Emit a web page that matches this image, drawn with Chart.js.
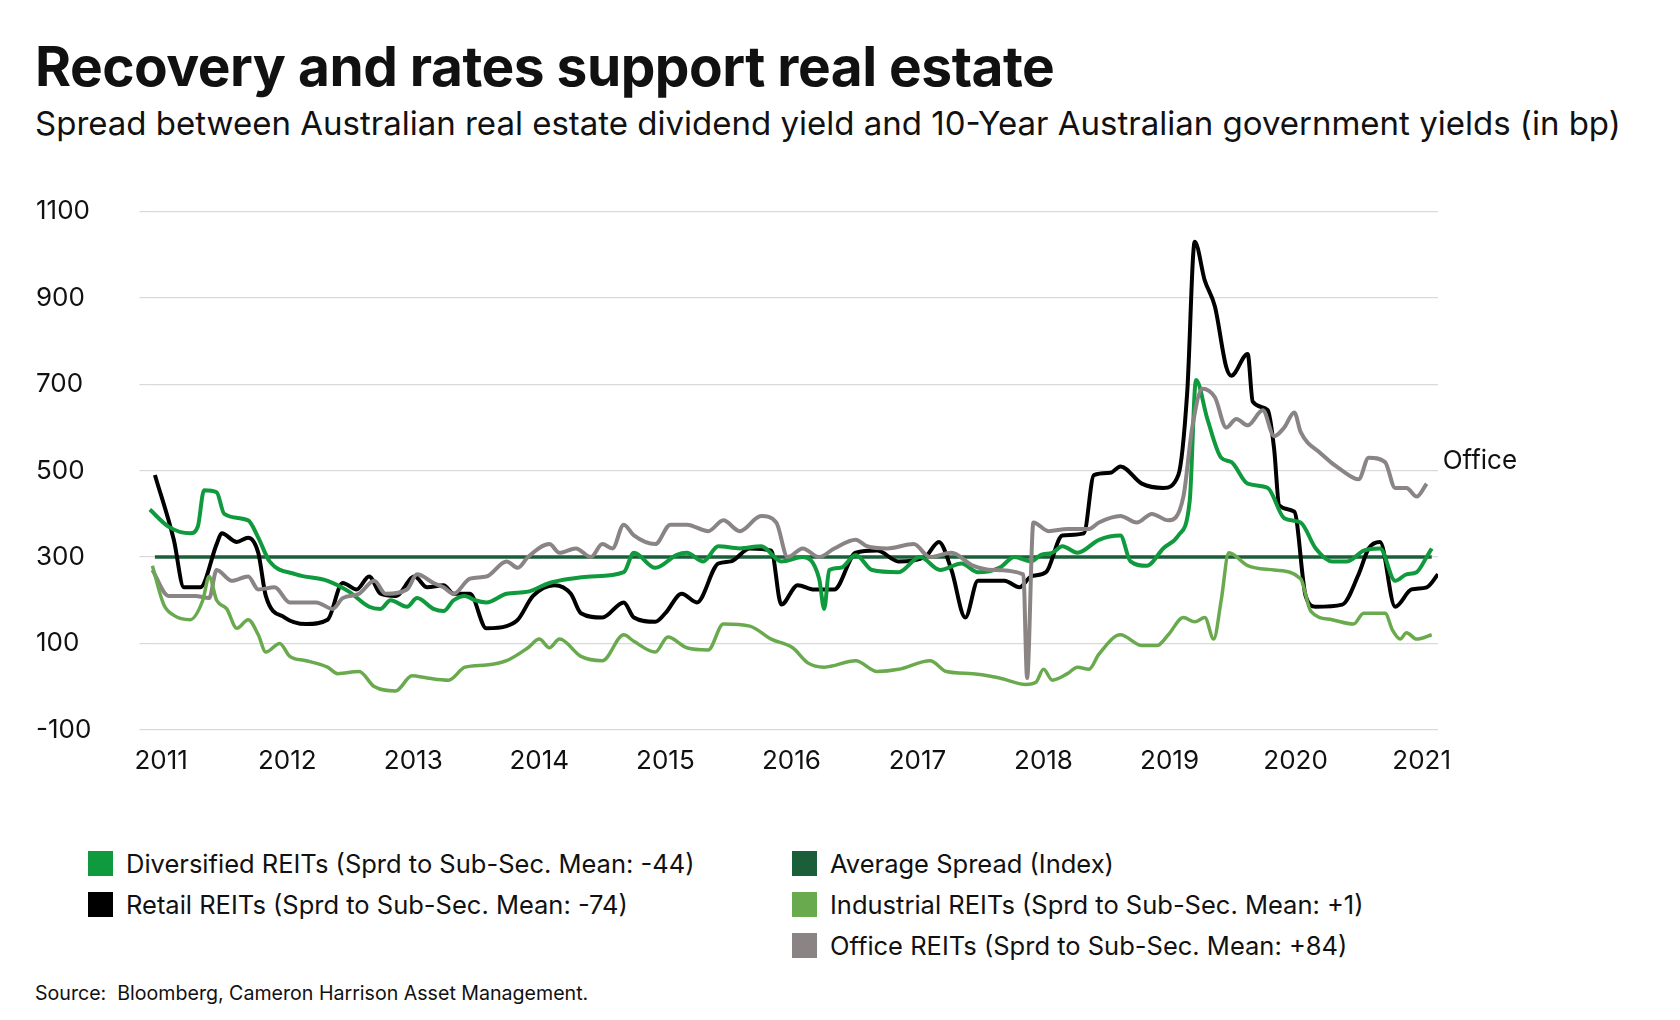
<!DOCTYPE html>
<html><head><meta charset="utf-8">
<script src="https://cdn.jsdelivr.net/npm/chart.js@4"></script>
<style>
body{margin:0;background:#fff;font-family:Inter,"Noto Sans",sans-serif;color:#111;width:1680px;height:1020px;position:relative;overflow:hidden}
#t{position:absolute;left:35px;top:33px;font-size:55px;font-weight:700;letter-spacing:-0.5px}
#s{position:absolute;left:35px;top:103px;font-size:33px}
#c{position:absolute;left:36px;top:172px;width:1492px;height:613px}
.lg{position:absolute;font-size:25.5px;display:flex;align-items:center}
.lg i{display:inline-block;width:25px;height:25px;margin-right:13px}
#src{position:absolute;left:35px;top:981px;font-size:19.6px}
</style></head><body>
<div id="t">Recovery and rates support real estate</div>
<div id="s">Spread between Australian real estate dividend yield and 10-Year Australian government yields (in bp)</div>
<div id="c"><canvas id="cv"></canvas></div>
<div class="lg" style="left:88px;top:848px"><i style="background:#0f9a3e"></i>Diversified REITs (Sprd to Sub-Sec. Mean: -44)</div>
<div class="lg" style="left:88px;top:889px"><i style="background:#000"></i>Retail REITs (Sprd to Sub-Sec. Mean: -74)</div>
<div class="lg" style="left:792px;top:848px"><i style="background:#1b5e3a"></i>Average Spread (Index)</div>
<div class="lg" style="left:792px;top:889px"><i style="background:#6aaa4e"></i>Industrial REITs (Sprd to Sub-Sec. Mean: +1)</div>
<div class="lg" style="left:792px;top:930px"><i style="background:#8a8584"></i>Office REITs (Sprd to Sub-Sec. Mean: +84)</div>
<div id="src">Source:&nbsp; Bloomberg, Cameron Harrison Asset Management.</div>
<script>
const yearTicks=[2011,2012,2013,2014,2015,2016,2017,2018,2019,2020,2021];
const yTicks=[-100,100,300,500,700,900,1100];
const retail=[[2010.95,490],[2011.10,340],[2011.18,230],[2011.31,230],[2011.44,330],[2011.48,355],[2011.60,335],[2011.69,345],[2011.77,310],[2011.83,210],[2011.98,160],[2012.15,145],[2012.32,155],[2012.44,240],[2012.55,225],[2012.65,255],[2012.74,215],[2012.86,210],[2013.01,255],[2013.11,230],[2013.24,235],[2013.32,215],[2013.45,215],[2013.58,135],[2013.74,140],[2013.83,155],[2013.95,210],[2014.12,235],[2014.25,215],[2014.33,170],[2014.50,160],[2014.67,195],[2014.75,160],[2014.92,150],[2015.00,170],[2015.13,215],[2015.25,195],[2015.42,285],[2015.52,290],[2015.67,320],[2015.84,315],[2015.92,190],[2016.05,235],[2016.18,225],[2016.34,225],[2016.51,310],[2016.68,315],[2016.85,290],[2017.06,300],[2017.17,335],[2017.27,270],[2017.38,160],[2017.48,245],[2017.69,245],[2017.81,230],[2017.90,255],[2018.02,265],[2018.15,350],[2018.32,355],[2018.40,490],[2018.53,495],[2018.61,510],[2018.78,470],[2018.95,460],[2019.07,490],[2019.14,680],[2019.20,1030],[2019.28,940],[2019.36,880],[2019.45,740],[2019.49,720],[2019.62,770],[2019.66,660],[2019.78,640],[2019.83,550],[2019.87,420],[2019.99,405],[2020.08,210],[2020.16,185],[2020.37,190],[2020.50,260],[2020.58,320],[2020.67,335],[2020.79,185],[2020.92,225],[2021.04,230],[2021.13,260]];
const diversified=[[2010.91,410],[2011.06,370],[2011.23,355],[2011.29,370],[2011.34,455],[2011.44,450],[2011.50,400],[2011.69,385],[2011.77,345],[2011.86,290],[2012.07,260],[2012.32,245],[2012.49,220],[2012.65,185],[2012.74,180],[2012.82,200],[2012.95,185],[2013.03,205],[2013.16,180],[2013.24,175],[2013.32,200],[2013.41,210],[2013.49,200],[2013.58,195],[2013.74,215],[2013.91,220],[2014.08,240],[2014.25,250],[2014.41,255],[2014.67,265],[2014.75,310],[2014.92,275],[2015.09,305],[2015.17,310],[2015.30,290],[2015.42,325],[2015.59,320],[2015.76,325],[2015.92,290],[2016.09,300],[2016.22,250],[2016.26,180],[2016.30,270],[2016.39,275],[2016.51,305],[2016.64,270],[2016.85,265],[2017.02,300],[2017.18,270],[2017.35,285],[2017.48,265],[2017.65,275],[2017.77,300],[2017.90,290],[2017.98,305],[2018.07,310],[2018.15,325],[2018.27,310],[2018.44,340],[2018.61,350],[2018.69,290],[2018.82,280],[2018.95,320],[2019.07,350],[2019.16,430],[2019.21,710],[2019.30,620],[2019.41,530],[2019.49,520],[2019.62,470],[2019.78,460],[2019.91,390],[2020.04,380],[2020.16,320],[2020.29,290],[2020.41,290],[2020.54,315],[2020.67,320],[2020.79,245],[2020.88,260],[2020.96,265],[2021.04,300],[2021.08,320]];
const industrial=[[2010.93,280],[2011.02,190],[2011.10,165],[2011.23,155],[2011.33,200],[2011.38,255],[2011.44,200],[2011.52,180],[2011.60,135],[2011.69,155],[2011.77,120],[2011.83,80],[2011.94,100],[2012.02,70],[2012.15,60],[2012.32,45],[2012.40,30],[2012.57,35],[2012.69,0],[2012.86,-10],[2012.99,25],[2013.11,20],[2013.28,15],[2013.41,45],[2013.58,50],[2013.74,60],[2013.91,90],[2014.00,110],[2014.08,90],[2014.16,110],[2014.33,70],[2014.50,60],[2014.67,120],[2014.75,105],[2014.92,80],[2015.02,115],[2015.17,90],[2015.34,85],[2015.46,145],[2015.67,140],[2015.84,110],[2016.01,90],[2016.13,55],[2016.26,45],[2016.51,60],[2016.68,35],[2016.85,40],[2017.10,60],[2017.23,35],[2017.44,30],[2017.65,20],[2017.86,5],[2017.94,10],[2018.00,40],[2018.07,15],[2018.19,30],[2018.27,45],[2018.36,40],[2018.44,75],[2018.61,120],[2018.78,95],[2018.90,95],[2018.99,120],[2019.11,160],[2019.20,150],[2019.28,160],[2019.35,110],[2019.41,200],[2019.47,310],[2019.62,280],[2019.83,270],[2020.04,250],[2020.12,175],[2020.29,155],[2020.46,145],[2020.54,170],[2020.71,170],[2020.77,130],[2020.83,110],[2020.88,125],[2020.96,110],[2021.08,120]];
const office=[[2010.93,270],[2011.06,210],[2011.27,210],[2011.38,205],[2011.44,270],[2011.56,245],[2011.69,255],[2011.77,225],[2011.90,230],[2012.02,195],[2012.23,195],[2012.36,180],[2012.44,205],[2012.57,215],[2012.69,245],[2012.78,215],[2012.95,225],[2013.03,260],[2013.16,240],[2013.24,230],[2013.32,215],[2013.45,250],[2013.58,255],[2013.74,290],[2013.83,275],[2013.91,300],[2014.08,330],[2014.16,310],[2014.29,320],[2014.41,300],[2014.50,330],[2014.58,320],[2014.67,375],[2014.75,350],[2014.92,330],[2015.04,375],[2015.17,375],[2015.34,360],[2015.46,385],[2015.59,360],[2015.76,395],[2015.88,380],[2015.97,300],[2016.09,320],[2016.22,300],[2016.34,320],[2016.51,340],[2016.60,325],[2016.76,320],[2016.97,330],[2017.10,300],[2017.27,310],[2017.44,280],[2017.60,270],[2017.84,260],[2017.87,20],[2017.92,380],[2018.04,360],[2018.19,365],[2018.36,365],[2018.44,380],[2018.61,395],[2018.74,380],[2018.86,400],[2018.99,385],[2019.11,440],[2019.18,600],[2019.26,690],[2019.36,670],[2019.45,600],[2019.53,620],[2019.62,605],[2019.74,640],[2019.83,580],[2019.91,600],[2019.99,635],[2020.04,590],[2020.20,540],[2020.37,500],[2020.50,480],[2020.58,530],[2020.71,520],[2020.79,460],[2020.88,460],[2020.96,440],[2021.04,470]];
const average=[[2010.95,300],[2021.08,300]];
const pts=a=>a.map(([x,y])=>({x,y}));
const ds=(d,c,w)=>({data:pts(d),borderColor:c,borderWidth:w,pointRadius:0,fill:false,cubicInterpolationMode:'monotone'});
const officeLabel={id:'ol',afterDatasetsDraw(ch){const m=ch.getDatasetMeta(1).data;const p=m[m.length-1];const c=ch.ctx;c.save();c.font='26px Inter, sans-serif';c.fillStyle='#111';c.textBaseline='middle';c.fillText('Office',p.x+16,p.y-22);c.restore();}};
new Chart(document.getElementById('cv'),{type:'line',
data:{datasets:[ds(industrial,'#6aaa4e',3.5),ds(office,'#8a8584',4),ds(diversified,'#0f9a3e',4),ds(retail,'#000',4),ds(average,'#1b5e3a',3.5)]},
options:{responsive:true,maintainAspectRatio:false,animation:false,
layout:{padding:{right:90,top:10}},
plugins:{legend:{display:false},tooltip:{enabled:false}},
scales:{x:{type:'linear',min:2010.89,max:2021.13,afterBuildTicks:s=>{s.ticks=yearTicks.map(v=>({value:v}))},
grid:{display:false},border:{display:false},ticks:{color:'#111',font:{size:26,family:'Inter'},callback:v=>String(v),padding:8,maxRotation:0}},
y:{min:-100,max:1100,afterBuildTicks:s=>{s.ticks=yTicks.map(v=>({value:v}))},
grid:{color:'#d9d9d9',lineWidth:1.2},border:{display:false},ticks:{color:'#111',font:{size:26,family:'Inter'},crossAlign:'far',padding:24,callback:v=>String(v)}}}},
plugins:[officeLabel]});
</script></body></html>
